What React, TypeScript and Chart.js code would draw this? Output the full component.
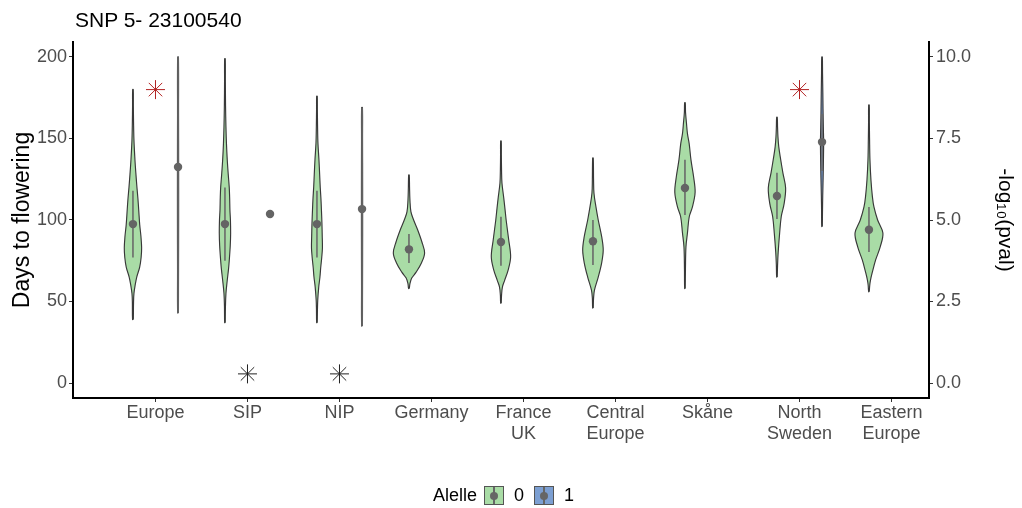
import React, { useEffect, useRef } from "react";
import { Chart, registerables } from "chart.js";

Chart.register(...registerables);

const FONT = "'Liberation Sans', 'DejaVu Sans', Arial, sans-serif";

// Regions along the x axis ("\n" splits a label onto two lines)
const regionLabels = [
  "Europe",
  "SIP",
  "NIP",
  "Germany",
  "France\nUK",
  "Central\nEurope",
  "Skåne",
  "North\nSweden",
  "Eastern\nEurope",
];

const dayTicks = [0, 50, 100, 150, 200];
const pvalTicks = [0, 2.5, 5, 7.5, 10];

// Kernel density outlines per region and allele: flowering days (ascending) and density
const europeA0Days = [39, 50, 55, 60, 65, 71, 77, 83, 90, 97, 106, 113, 120, 128, 137, 149, 160, 170, 180];
const europeA0Dens = [0.4, 0.6, 1, 2.2, 3.8, 6.7, 8.2, 8.7, 8, 6.8, 5.8, 5, 4, 3, 2, 1, 0.6, 0.4, 0.3];
const europeA1Days = [43, 70, 100, 132, 165, 200];
const europeA1Dens = [0.4, 0.5, 0.6, 0.6, 0.5, 0.4];

const sipA0Days = [37, 47, 55, 63, 70, 75, 84, 92, 100, 106, 114, 120, 128, 137, 147, 157, 170, 185, 199];
const sipA0Dens = [0.3, 0.5, 1, 2.3, 3.6, 4.3, 5.3, 5.7, 5.5, 5, 4.7, 4.3, 3.3, 2.3, 1.5, 1, 0.6, 0.4, 0.3];

const nipA0Days = [37, 45, 51, 59, 65, 71, 77, 83, 90, 98, 106, 113, 120, 128, 137, 147, 158, 168, 176];
const nipA0Dens = [0.3, 0.5, 0.8, 1.8, 3, 3.8, 4.8, 5.5, 5.3, 5, 4.5, 4, 3.3, 2.7, 2, 1, 0.6, 0.4, 0.3];
const nipA1Days = [35, 60, 90, 120, 150, 169];
const nipA1Dens = [0.4, 0.5, 0.6, 0.6, 0.5, 0.4];

const germanyA0Days = [58, 61, 64.4, 68, 73.6, 79.8, 86.5, 94, 100, 105, 112, 120, 127.6];
const germanyA0Dens = [0.4, 1, 2.8, 7.2, 12.5, 15.7, 13, 8.7, 4.7, 2, 1, 0.6, 0.3];

const franceA0Days = [49, 54, 59, 63, 69.3, 77.3, 87.7, 100, 107, 114, 122.7, 130, 140, 148.5];
const franceA0Dens = [0.3, 0.6, 1.5, 3.7, 7.2, 9.7, 7.8, 5.2, 4, 2.7, 1, 0.6, 0.4, 0.3];

const centralA0Days = [46, 52, 57, 65, 73.6, 81.6, 89.6, 100, 108, 116.6, 125, 138];
const centralA0Dens = [0.3, 0.6, 1.5, 5.3, 8.7, 10.3, 8.8, 5.3, 3, 1, 0.6, 0.3];

const skaneA0Days = [58, 70, 83.5, 92, 102, 108, 117, 126.4, 137, 147, 153, 159.5, 166, 172];
const skaneA0Dens = [0.3, 0.5, 1, 2.5, 4.3, 7.5, 10.2, 8.7, 6, 4.2, 2.5, 1.5, 0.6, 0.3];

const northA0Days = [65, 72, 80, 92, 102, 110, 119.6, 128.8, 138.7, 145, 151, 157, 163];
const northA0Dens = [0.3, 0.6, 1.2, 2.7, 4.3, 7.2, 8.7, 6, 3.3, 1.8, 1, 0.6, 0.3];
const northA1Days = [96, 105, 115, 126, 137, 147.8, 157, 168, 178, 190, 200];
const northA1Dens = [0.3, 0.45, 0.7, 1.1, 1.4, 1.6, 1.3, 1, 0.8, 0.5, 0.3];

const easternA0Days = [56, 60, 63, 67.5, 75.5, 83.5, 92, 100, 108, 114, 124.5, 137, 150, 160, 170.5];
const easternA0Dens = [0.3, 0.8, 1.5, 3.2, 6.7, 11.3, 14, 8.7, 5, 3.5, 2, 1, 0.6, 0.4, 0.3];

// Summary per region: median and interquartile range (null = no plants with that allele)
const medianA0 = [97.5, 97.5, 97.5, 82, 86.5, 87, 119.6, 114.7, 94];
const lowerA0 = [77, 75, 77, 73.6, 72, 72.4, 103, 100.6, 80.4];
const upperA0 = [118, 120, 118, 91.4, 102, 100, 137, 129, 108];
const medianA1 = [132.5, 103.7, 106.7, null, null, null, null, 147.8, null];
const lowerA1 = [43, null, 35, null, null, null, null, 130, null];
const upperA1 = [200, null, 169, null, null, null, null, 165, null];

// Association test per region, -log10(p)
const negLog10P = [9.0, 0.28, 0.28, null, null, null, null, 9.0, null];
const SIGNIFICANCE = 5;

const ALLELE_COLORS = ["#a9dca6", "#7c9fd2"];
const DODGE = 0.245;
const VIOLIN_HALF = 0.17;

const violins = [
  { region: 0, allele: 0, days: europeA0Days, dens: europeA0Dens },
  { region: 0, allele: 1, days: europeA1Days, dens: europeA1Dens },
  { region: 1, allele: 0, days: sipA0Days, dens: sipA0Dens },
  { region: 2, allele: 0, days: nipA0Days, dens: nipA0Dens },
  { region: 2, allele: 1, days: nipA1Days, dens: nipA1Dens },
  { region: 3, allele: 0, days: germanyA0Days, dens: germanyA0Dens },
  { region: 4, allele: 0, days: franceA0Days, dens: franceA0Dens },
  { region: 5, allele: 0, days: centralA0Days, dens: centralA0Dens },
  { region: 6, allele: 0, days: skaneA0Days, dens: skaneA0Dens },
  { region: 7, allele: 0, days: northA0Days, dens: northA0Dens },
  { region: 7, allele: 1, days: northA1Days, dens: northA1Dens },
  { region: 8, allele: 0, days: easternA0Days, dens: easternA0Dens },
];

const centerOf = (region: number, allele: number) =>
  region + 1 + (allele === 0 ? -DODGE : DODGE);

function buildDatasets(): any[] {
  const maxDens = Math.max(...violins.flatMap((v) => v.dens));
  const k = VIOLIN_HALF / maxDens;
  const sets: any[] = [];

  violins.forEach((v) => {
    const c = centerOf(v.region, v.allele);
    const right = v.days.map((d, i) => ({ x: c + v.dens[i] * k, y: d }));
    const left = v.days.map((d, i) => ({ x: c - v.dens[i] * k, y: d })).reverse();
    sets.push({
      type: "line",
      data: [...right, ...left, right[0]],
      borderColor: "#383838",
      borderWidth: 1.15,
      backgroundColor: ALLELE_COLORS[v.allele],
      fill: "shape",
      pointRadius: 0,
      tension: 0.35,
      order: 4,
    });
  });

  const ranges: any[] = [];
  const dots: any[] = [];
  regionLabels.forEach((_, r) => {
    const groups = [
      [medianA0[r], lowerA0[r], upperA0[r], 0],
      [medianA1[r], lowerA1[r], upperA1[r], 1],
    ];
    groups.forEach(([m, lo, hi, a]) => {
      if (m === null) return;
      const c = centerOf(r, a as number);
      if (lo !== null && hi !== null) {
        ranges.push({ x: c, y: lo }, { x: c, y: hi }, { x: c, y: null });
      }
      dots.push({ x: c, y: m });
    });
  });

  sets.push({
    type: "line",
    data: ranges,
    borderColor: "#6a6a6a",
    borderWidth: 1.6,
    pointRadius: 0,
    fill: false,
    spanGaps: false,
    order: 3,
  });
  sets.push({
    type: "scatter",
    data: dots,
    backgroundColor: "#646464",
    borderWidth: 0,
    pointRadius: 4.2,
    order: 2,
  });

  const stars: any[] = [];
  const starColors: string[] = [];
  negLog10P.forEach((p, r) => {
    if (p === null) return;
    stars.push({ x: r + 1, y: p });
    starColors.push(p > SIGNIFICANCE ? "#b22222" : "#222222");
  });
  sets.push({
    type: "scatter",
    yAxisID: "y2",
    data: stars,
    pointStyle: "star",
    pointRadius: 9.5,
    borderColor: starColors,
    borderWidth: 1,
    order: 1,
  });
  return sets;
}

const tickFont = { family: FONT, size: 18 };
const tickColor = "#4d4d4d";
const gridOpts = {
  display: true,
  drawOnChartArea: false,
  drawTicks: true,
  tickLength: 4,
  color: "#333333",
  lineWidth: 1,
};
const borderOpts = { display: true, color: "#000000", width: 2 };

function KeyGlyph({ fill }: { fill: string }) {
  return (
    <div
      style={{
        position: "relative",
        width: 18,
        height: 17,
        background: fill,
        border: "1px solid #555",
      }}
    >
      <div
        style={{
          position: "absolute",
          left: 8,
          top: 0,
          width: 1.6,
          height: 17,
          background: "#666",
        }}
      />
      <div
        style={{
          position: "absolute",
          left: 4.8,
          top: 4.5,
          width: 8,
          height: 8,
          borderRadius: "50%",
          background: "#666",
        }}
      />
    </div>
  );
}

export default function App() {
  const canvasRef = useRef<HTMLCanvasElement>(null);

  useEffect(() => {
    const chart = new Chart(canvasRef.current as HTMLCanvasElement, {
      type: "scatter",
      data: { datasets: buildDatasets() },
      options: {
        responsive: false,
        animation: false,
        layout: { padding: { top: 42, left: 0, right: 0, bottom: 0 } },
        plugins: { legend: { display: false }, tooltip: { enabled: false } },
        scales: {
          x: {
            type: "linear",
            position: "bottom",
            min: 0.1033,
            max: 9.4076,
            afterBuildTicks: (s: any) => {
              s.ticks = regionLabels.map((_, i) => ({ value: i + 1 }));
            },
            afterFit: (s: any) => {
              s.height = 110;
            },
            ticks: {
              autoSkip: false,
              maxRotation: 0,
              color: tickColor,
              font: tickFont,
              padding: 0,
              callback: (v: any) => {
                const lbl = regionLabels[Math.round(Number(v)) - 1];
                return lbl ? lbl.split("\n") : "";
              },
            },
            grid: gridOpts,
            border: borderOpts,
          },
          y: {
            type: "linear",
            position: "left",
            min: -9.2,
            max: 209.2,
            afterBuildTicks: (s: any) => {
              s.ticks = dayTicks.map((v) => ({ value: v }));
            },
            afterFit: (s: any) => {
              s.width = 73;
            },
            ticks: { color: tickColor, font: tickFont, padding: 2 },
            grid: gridOpts,
            border: borderOpts,
            title: {
              display: true,
              text: "Days to flowering",
              color: "#000000",
              font: { family: FONT, size: 23 },
              padding: 9,
            },
          },
          y2: {
            type: "linear",
            position: "right",
            min: -0.46,
            max: 10.46,
            afterBuildTicks: (s: any) => {
              s.ticks = pvalTicks.map((v) => ({ value: v }));
            },
            afterFit: (s: any) => {
              s.width = 93;
            },
            ticks: {
              color: tickColor,
              font: tickFont,
              padding: 3,
              callback: (v: any) => Number(v).toFixed(1),
            },
            grid: gridOpts,
            border: borderOpts,
            title: {
              display: true,
              text: "-log₁₀(pval)",
              color: "#000000",
              font: { family: FONT, size: 21 },
              padding: 5,
            },
          },
        },
      } as any,
    });
    return () => chart.destroy();
  }, []);

  return (
    <div
      style={{
        position: "absolute",
        left: 0,
        top: 0,
        width: 1022,
        height: 508,
        background: "#ffffff",
        fontFamily: FONT,
        overflow: "hidden",
      }}
    >
      <canvas
        ref={canvasRef}
        width={1022}
        height={508}
        style={{ position: "absolute", left: 0, top: 0 }}
      />
      <div
        style={{
          position: "absolute",
          left: 75,
          top: 8,
          fontSize: 21,
          lineHeight: "24px",
          color: "#000",
          whiteSpace: "nowrap",
        }}
      >
        SNP 5- 23100540
      </div>
      <div
        style={{
          position: "absolute",
          left: 433,
          top: 485,
          display: "flex",
          alignItems: "center",
          fontSize: 18,
          color: "#000",
          whiteSpace: "nowrap",
        }}
      >
        <span style={{ marginRight: 7 }}>Alelle</span>
        <KeyGlyph fill={ALLELE_COLORS[0]} />
        <span style={{ marginLeft: 10, marginRight: 10 }}>0</span>
        <KeyGlyph fill={ALLELE_COLORS[1]} />
        <span style={{ marginLeft: 10 }}>1</span>
      </div>
    </div>
  );
}
